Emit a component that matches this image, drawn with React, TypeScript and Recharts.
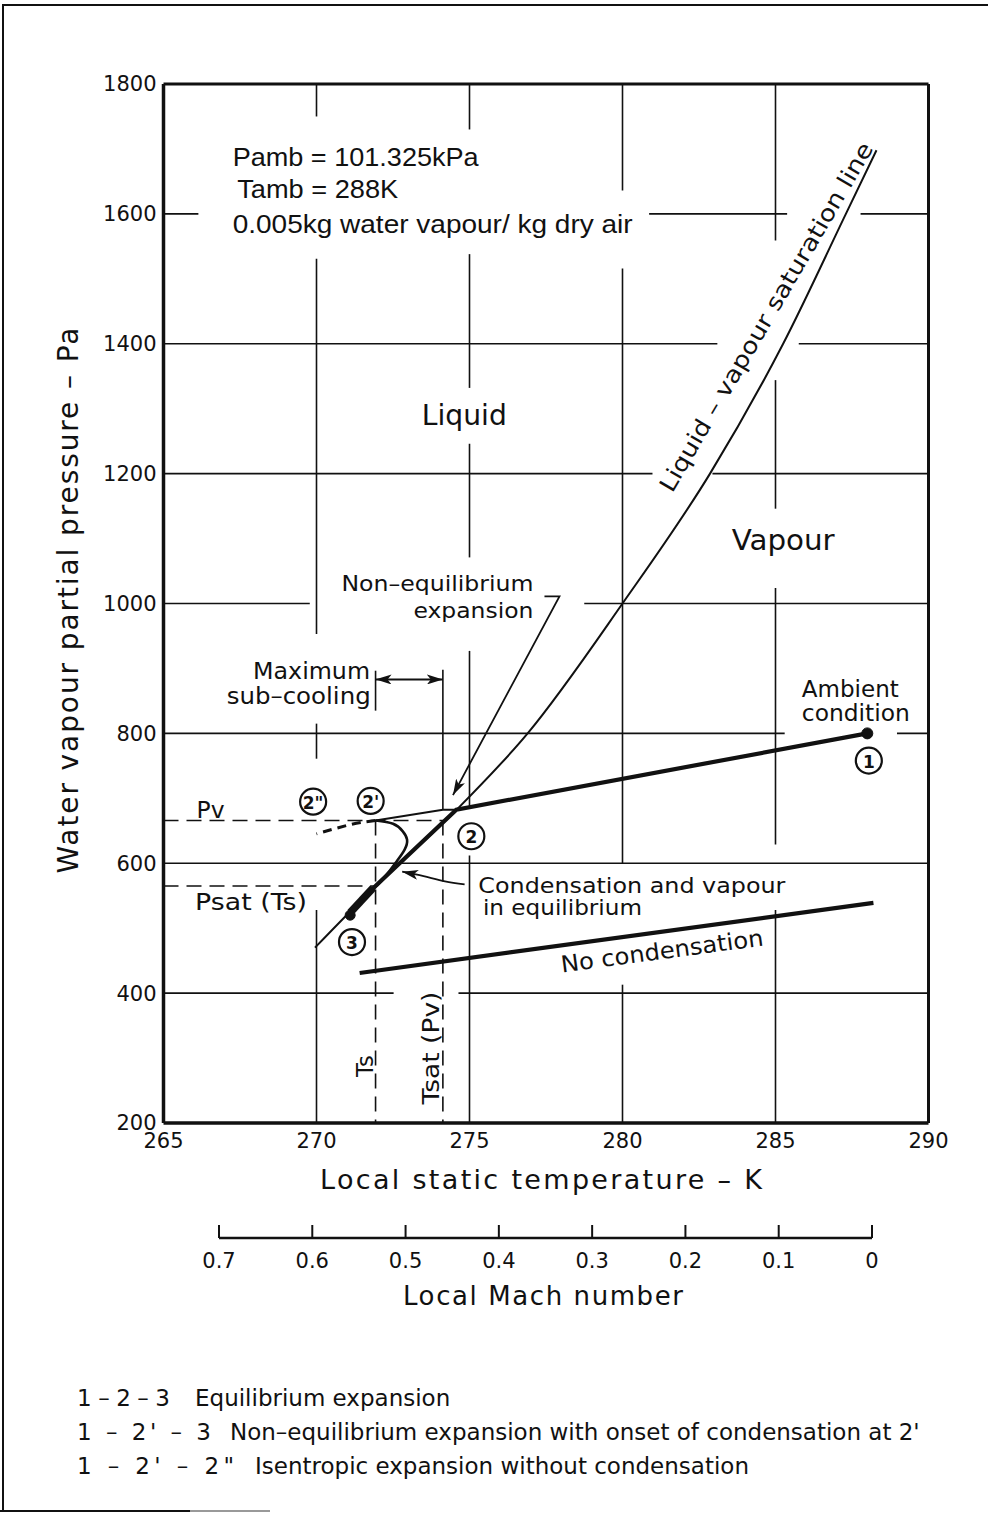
import React from 'react';
import { LineChart, Line, XAxis, YAxis, ReferenceLine, ReferenceDot } from 'recharts';

const tempTicks = [265, 270, 275, 280, 285, 290];
const pressureTicks = [200, 400, 600, 800, 1000, 1200, 1400, 1600, 1800];
const machTicks = [0.7, 0.6, 0.5, 0.4, 0.3, 0.2, 0.1, 0];

// liquid - vapour saturation line (K, Pa)
const saturationLine = [
  { t: 269.95, p: 470 },
  { t: 271.93, p: 565 },
  { t: 274.57, p: 682 },
  { t: 276.9, p: 800 },
  { t: 280, p: 1000 },
  { t: 282.86, p: 1200 },
  { t: 285.25, p: 1400 },
  { t: 287.3, p: 1600 },
  { t: 288.3, p: 1698 },
];

// 1 - 2 - 3 equilibrium expansion
const equilibriumPath = [
  { t: 288, p: 800 },
  { t: 274.57, p: 682.5 },
  { t: 271.93, p: 565 },
  { t: 271.1, p: 524 },
];
const equilibriumEnd = [
  { t: 271.85, p: 562 },
  { t: 271.1, p: 524 },
];

// 2 -> 2' supersaturated expansion
const supersaturated = [
  { t: 274.57, p: 682.5 },
  { t: 274.13, p: 682.5 },
  { t: 271.93, p: 665.8 },
];

// 2' -> back onto the equilibrium line (condensation)
const condensationPath = [
  { t: 271.93, p: 665.8 },
  { t: 272.5, p: 660.7 },
  { t: 272.82, p: 649.2 },
  { t: 272.96, p: 636.4 },
  { t: 272.88, p: 621 },
  { t: 272.63, p: 603.6 },
  { t: 272.39, p: 588.5 },
  { t: 272.12, p: 573 },
  { t: 271.96, p: 565 },
];

// 2' -> 2'' isentropic without condensation
const isentropicPath = [
  { t: 271.93, p: 665.8 },
  { t: 271.5, p: 663 },
  { t: 271.0, p: 658.3 },
  { t: 270.0, p: 645.3 },
];

const noCondensation = [
  { t: 271.41, p: 431 },
  { t: 288.2, p: 539 },
];

const pv = 665.8;
const psatTs = 565;
const ts = 271.93;
const tsatPv = 274.13;

// leader arrows
const nonEqArrow = [
  { t: 277.45, p: 1011 },
  { t: 277.94, p: 1011 },
  { t: 274.46, p: 705 },
];
const condArrow = [
  { t: 274.84, p: 567.5 },
  { t: 274.2, p: 572 },
  { t: 273.5, p: 580 },
  { t: 272.8, p: 587 },
];
const subCoolingArrow = [
  { t: ts, p: 883 },
  { t: tsatPv, p: 883 },
];

// visible pieces of the printed grid (broken where labels sit)
const gridVertical = [
  { t: 270, from: 1800, to: 1750 },
  { t: 270, from: 1531, to: 953 },
  { t: 270, from: 815, to: 761 },
  { t: 270, from: 528, to: 200 },
  { t: 275, from: 1800, to: 1730 },
  { t: 275, from: 1538, to: 1332 },
  { t: 275, from: 1246, to: 1071 },
  { t: 275, from: 927, to: 685 },
  { t: 275, from: 612, to: 200 },
  { t: 280, from: 1800, to: 1636 },
  { t: 280, from: 1516, to: 600 },
  { t: 280, from: 413, to: 200 },
  { t: 285, from: 1800, to: 1559 },
  { t: 285, from: 1344, to: 1146 },
  { t: 285, from: 1024, to: 629 },
  { t: 285, from: 528, to: 200 },
];
const gridHorizontal = [
  { p: 1600, from: 265, to: 266.14 },
  { p: 1600, from: 280.87, to: 285.38 },
  { p: 1600, from: 287.78, to: 290 },
  { p: 1400, from: 265, to: 283.1 },
  { p: 1400, from: 285.76, to: 290 },
  { p: 1200, from: 265, to: 280.98 },
  { p: 1200, from: 282.94, to: 290 },
  { p: 1000, from: 265, to: 269.78 },
  { p: 1000, from: 278.75, to: 290 },
  { p: 800, from: 265, to: 285.3 },
  { p: 800, from: 288.97, to: 290 },
  { p: 600, from: 265, to: 290 },
  { p: 400, from: 265, to: 272.52 },
  { p: 400, from: 274.64, to: 290 },
];

const stateMarkers = [
  { t: 288.05, p: 758, text: '1' },
  { t: 275.06, p: 641.6, text: '2' },
  { t: 271.77, p: 696, text: "2'" },
  { t: 269.89, p: 694.8, text: '2"' },
  { t: 271.16, p: 478.6, text: '3' },
];

const legendRows = [
  { code: '1 \u2013 2 \u2013 3', text: 'Equilibrium expansion' },
  { code: "1 \u2013 2' \u2013 3", text: "Non\u2013equilibrium expansion with onset of condensation at 2'" },
  { code: "1 \u2013 2' \u2013 2\"", text: 'Isentropic expansion without condensation' },
];

const INK = '#111';
const SANS = "'DejaVu Sans', sans-serif";
const BLOCK = "'Liberation Sans', Arial, sans-serif";

type NoteOpts = {
  size?: number;
  anchor?: 'start' | 'middle' | 'end';
  angle?: number;
  length?: number;
  central?: boolean;
  family?: string;
};

function note(key: string, t: number, p: number, text: string, o: NoteOpts = {}) {
  const content = (props: any) => {
    const vb = props.viewBox;
    const x = vb.x + vb.width / 2;
    const y = vb.y + vb.height / 2;
    return (
      <text
        x={x}
        y={y}
        transform={o.angle ? `rotate(${o.angle} ${x} ${y})` : undefined}
        textAnchor={o.anchor ?? 'start'}
        dominantBaseline={o.central ? 'central' : undefined}
        fontSize={o.size ?? 23}
        fontFamily={o.family ?? SANS}
        fill={INK}
        textLength={o.length}
        lengthAdjust={o.length ? 'spacingAndGlyphs' : undefined}
      >
        {text}
      </text>
    );
  };
  return <ReferenceDot key={key} x={t} y={p} r={0} fill="none" stroke="none" label={content} />;
}

function circled(key: string, t: number, p: number, text: string) {
  const content = (props: any) => {
    const vb = props.viewBox;
    const x = vb.x + vb.width / 2;
    const y = vb.y + vb.height / 2;
    return (
      <text x={x} y={y + 1} textAnchor="middle" dominantBaseline="central" fontSize={17} fontWeight="bold" fontFamily={SANS} fill={INK}>
        {text}
      </text>
    );
  };
  return <ReferenceDot key={key} x={t} y={p} r={13} fill="#fff" stroke={INK} strokeWidth={2.2} label={content} />;
}

const MachTick = (props: any) => {
  const { x, y, payload } = props;
  return (
    <g>
      <line x1={x} y1={y} x2={x} y2={y - 13} stroke={INK} strokeWidth={2} />
      <text x={x} y={y + 30} textAnchor="middle" fontSize={21} fontFamily={SANS} fill={INK}>
        {String(payload.value)}
      </text>
    </g>
  );
};

export default function App() {
  const machData = machTicks.map((m) => ({ m }));
  return (
    <div style={{ position: 'absolute', left: 0, top: 0, width: 988, height: 1515, background: '#fff', overflow: 'hidden' }}>
      <svg width={0} height={0} style={{ position: 'absolute' }}>
        <defs>
          <marker id="head" viewBox="0 0 16 10" refX="16" refY="5" markerWidth="16" markerHeight="10" markerUnits="userSpaceOnUse" orient="auto-start-reverse">
            <path d="M0,0 L16,5 L0,10 L4,5 z" fill={INK} />
          </marker>
        </defs>
      </svg>

      {/* page frame */}
      <div style={{ position: 'absolute', left: 2, top: 4, width: 990, height: 1506, borderTop: `2px solid ${INK}`, borderLeft: `2px solid ${INK}` }} />
      <div style={{ position: 'absolute', left: 0, top: 1510, width: 190, height: 2, background: INK }} />
      <div style={{ position: 'absolute', left: 190, top: 1510, width: 80, height: 2, background: '#999' }} />

      <div style={{ position: 'absolute', left: 0, top: 0 }}>
        <LineChart width={988} height={1260} margin={{ top: 84, right: 59.5, bottom: 57, left: 0 }}>
          <XAxis
            type="number"
            dataKey="t"
            domain={[265, 290]}
            ticks={tempTicks}
            interval={0}
            allowDataOverflow
            height={80}
            tickSize={0}
            tickMargin={10}
            axisLine={{ stroke: INK, strokeWidth: 3.5 }}
            tick={{ fill: INK, fontSize: 21, fontFamily: SANS }}
            label={(props: any) => {
              const vb = props.viewBox;
              return (
                <text x={541} y={vb.y + 66} textAnchor="middle" fontSize={27} fontFamily={SANS} fill={INK} textLength={442} lengthAdjust="spacing">
                  Local static temperature  –  K
                </text>
              );
            }}
          />
          <YAxis
            type="number"
            domain={[200, 1800]}
            ticks={pressureTicks}
            interval={0}
            allowDataOverflow
            width={163.5}
            tickSize={0}
            tickMargin={7}
            axisLine={{ stroke: INK, strokeWidth: 3.5 }}
            tick={{ fill: INK, fontSize: 21, fontFamily: SANS }}
            label={(props: any) => {
              const vb = props.viewBox;
              const y = vb.y + vb.height / 2 - 3;
              return (
                <text x={78} y={y} transform={`rotate(-90 78 ${y})`} textAnchor="middle" fontSize={28} fontFamily={SANS} fill={INK} textLength={546} lengthAdjust="spacing">
                  Water vapour partial pressure  –  Pa
                </text>
              );
            }}
          />

          {gridVertical.map((g, i) => (
            <ReferenceLine key={`gv${i}`} segment={[{ x: g.t, y: g.from }, { x: g.t, y: g.to }]} stroke={INK} strokeWidth={1.6} />
          ))}
          {gridHorizontal.map((g, i) => (
            <ReferenceLine key={`gh${i}`} segment={[{ x: g.from, y: g.p }, { x: g.to, y: g.p }]} stroke={INK} strokeWidth={1.6} />
          ))}
          <ReferenceLine y={1800} stroke={INK} strokeWidth={3} />
          <ReferenceLine x={290} stroke={INK} strokeWidth={3} />

          {/* construction lines */}
          <ReferenceLine segment={[{ x: 265, y: pv }, { x: tsatPv, y: pv }]} stroke={INK} strokeWidth={1.6} strokeDasharray="15 8" />
          <ReferenceLine segment={[{ x: 265, y: psatTs }, { x: ts, y: psatTs }]} stroke={INK} strokeWidth={1.6} strokeDasharray="15 8" />
          <ReferenceLine segment={[{ x: ts, y: pv }, { x: ts, y: 200 }]} stroke={INK} strokeWidth={1.6} strokeDasharray="15 8" />
          <ReferenceLine segment={[{ x: tsatPv, y: pv }, { x: tsatPv, y: 200 }]} stroke={INK} strokeWidth={1.6} strokeDasharray="15 8" />
          <ReferenceLine segment={[{ x: ts, y: 896.5 }, { x: ts, y: 835 }]} stroke={INK} strokeWidth={1.6} />
          <ReferenceLine segment={[{ x: tsatPv, y: 898 }, { x: tsatPv, y: 682.5 }]} stroke={INK} strokeWidth={1.6} />

          <Line data={saturationLine} dataKey="p" type="monotone" stroke={INK} strokeWidth={2} dot={false} isAnimationActive={false} />
          <Line data={equilibriumPath} dataKey="p" type="linear" stroke={INK} strokeWidth={4.2} dot={false} isAnimationActive={false} />
          <Line data={equilibriumEnd} dataKey="p" type="linear" stroke={INK} strokeWidth={7.5} dot={false} isAnimationActive={false} />
          <Line data={supersaturated} dataKey="p" type="linear" stroke={INK} strokeWidth={2} dot={false} isAnimationActive={false} />
          <Line data={condensationPath} dataKey="p" type="natural" stroke={INK} strokeWidth={2.6} dot={false} isAnimationActive={false} />
          <Line data={isentropicPath} dataKey="p" type="natural" stroke={INK} strokeWidth={3} strokeDasharray="9 6" dot={false} isAnimationActive={false} />
          <Line data={noCondensation} dataKey="p" type="linear" stroke={INK} strokeWidth={4.2} dot={false} isAnimationActive={false} />

          <Line data={nonEqArrow} dataKey="p" type="linear" stroke={INK} strokeWidth={1.8} dot={false} markerEnd="url(#head)" isAnimationActive={false} />
          <Line data={condArrow} dataKey="p" type="natural" stroke={INK} strokeWidth={1.8} dot={false} markerEnd="url(#head)" isAnimationActive={false} />
          <Line data={subCoolingArrow} dataKey="p" type="linear" stroke={INK} strokeWidth={1.8} dot={false} markerStart="url(#head)" markerEnd="url(#head)" isAnimationActive={false} />

          <ReferenceDot x={288} y={800} r={5.5} fill={INK} stroke={INK} />
          <ReferenceDot x={271.1} y={520} r={5} fill={INK} stroke={INK} />

          {note('pamb', 267.26, 1673.4, 'Pamb = 101.325kPa', { size: 26, length: 246, family: BLOCK })}
          {note('tamb', 267.41, 1623.8, 'Tamb = 288K', { size: 26, length: 161, family: BLOCK })}
          {note('ratio', 267.26, 1570.2, '0.005kg water vapour/ kg dry air', { size: 26, length: 400, family: BLOCK })}
          {note('liquid', 274.83, 1274.5, 'Liquid', { size: 28, anchor: 'middle', length: 85 })}
          {note('vapour', 285.25, 1082, 'Vapour', { size: 28, anchor: 'middle', length: 103 })}
          {note('satline', 284.92, 1435, 'Liquid  \u2013  vapour saturation line', { anchor: 'middle', angle: -59.7, length: 400 })}
          {note('noneq1', 277.09, 1019, 'Non\u2013equilibrium', { size: 22, anchor: 'end', length: 192 })}
          {note('noneq2', 277.09, 978.4, 'expansion', { size: 22, anchor: 'end', length: 120 })}
          {note('max1', 271.75, 884.4, 'Maximum', { anchor: 'end', length: 117 })}
          {note('max2', 271.77, 844.6, 'sub\u2013cooling', { anchor: 'end', length: 144 })}
          {note('amb1', 285.86, 856.7, 'Ambient', { length: 97 })}
          {note('amb2', 285.86, 819.8, 'condition', { length: 108 })}
          {note('pv', 266.08, 669.9, 'Pv', { length: 28 })}
          {note('psat', 266.03, 528.2, 'Psat (Ts)', { length: 112 })}
          {note('cond1', 275.29, 554.4, 'Condensation and vapour', { size: 22, length: 307 })}
          {note('cond2', 275.44, 520.3, 'in equilibrium', { size: 22, length: 159 })}
          {note('nocond', 281.29, 464.9, 'No condensation', { anchor: 'middle', angle: -7.6, central: true, length: 204 })}
          {note('ts', 271.58, 287.6, 'Ts', { anchor: 'middle', angle: -90, central: true, length: 22 })}
          {note('tsat', 273.74, 315.4, 'Tsat (Pv)', { anchor: 'middle', angle: -90, central: true, length: 113 })}

          {stateMarkers.map((s, i) => circled(`st${i}`, s.t, s.p, s.text))}
        </LineChart>
      </div>

      {/* secondary scale: local Mach number */}
      <div style={{ position: 'absolute', left: 0, top: 1208 }}>
        <LineChart width={988} height={112} data={machData} margin={{ top: 0, right: 116, bottom: 0, left: 219 }}>
          <XAxis
            type="number"
            dataKey="m"
            domain={[0, 0.7]}
            reversed
            ticks={machTicks}
            interval={0}
            height={82}
            tickSize={0}
            tickMargin={0}
            tickLine={false}
            axisLine={{ stroke: INK, strokeWidth: 2.5 }}
            tick={<MachTick />}
            label={(props: any) => {
              const vb = props.viewBox;
              return (
                <text x={543} y={vb.y + 67} textAnchor="middle" fontSize={26} fontFamily={SANS} fill={INK} textLength={280} lengthAdjust="spacing">
                  Local Mach number
                </text>
              );
            }}
          />
          <YAxis hide />
        </LineChart>
      </div>

      <svg width={988} height={120} style={{ position: 'absolute', left: 0, top: 1380 }}>
        {legendRows.map((r, i) => {
          const y = 26 + i * 34;
          const codeLen = [93, 134, 157][i];
          const textX = [195, 230, 255][i];
          return (
            <g key={i}>
              <text x={77} y={y} fontSize={23} fontFamily={SANS} fill={INK} textLength={codeLen} lengthAdjust="spacing">
                {r.code}
              </text>
              <text x={textX} y={y} fontSize={23} fontFamily={SANS} fill={INK}>
                {r.text}
              </text>
            </g>
          );
        })}
      </svg>
    </div>
  );
}
